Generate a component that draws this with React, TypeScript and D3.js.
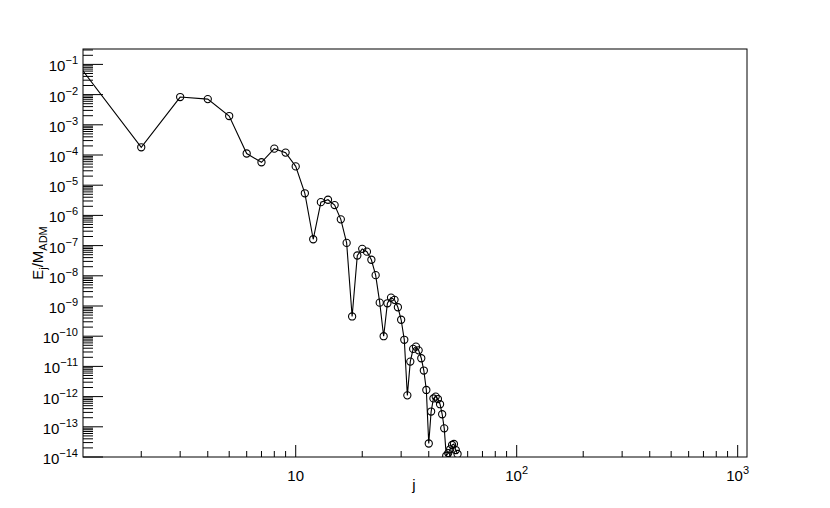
import React from 'react';
import * as d3 from 'd3';

// mode index j and energy fraction E_j / M_ADM
const modes = [
  1, 2, 3, 4, 5, 6, 7, 8, 9, 10, 11, 12, 13, 14, 15, 16, 17, 18,
  19, 20, 21, 22, 23, 24, 25, 26, 27, 28, 29, 30, 31, 32, 33, 34, 35, 36,
  37, 38, 39, 40, 41, 42, 43, 44, 45, 46, 47, 48, 49, 50, 51, 52, 53, 54,
];
const energies = [
  0.14, 1.8e-4, 8.3e-3, 7.1e-3, 1.95e-3, 1.12e-4, 5.75e-5, 1.62e-4, 1.2e-4, 4.2e-5,
  5.4e-6, 1.62e-7, 2.75e-6, 3.3e-6, 2.2e-6, 7.4e-7, 1.23e-7, 4.5e-10,
  4.7e-8, 7.8e-8, 6.3e-8, 3.4e-8, 1.05e-8, 1.29e-9, 1.0e-10, 1.23e-9, 1.9e-9,
  1.6e-9, 9.1e-10, 3.5e-10, 7.6e-11, 1.1e-12, 1.44e-11, 3.8e-11, 4.5e-11, 3.4e-11,
  1.86e-11, 7.3e-12, 1.66e-12, 2.8e-14, 3.2e-13, 8.7e-13, 1.0e-12, 8.3e-13, 5.6e-13,
  2.6e-13, 8.9e-14, 1.1e-14, 1.35e-14, 1.8e-14, 2.5e-14, 2.7e-14, 1.7e-14, 1.26e-14,
];

const yDecades = [-14, -13, -12, -11, -10, -9, -8, -7, -6, -5, -4, -3, -2, -1];
const xDecades = [1, 2, 3];
const xMinorDecades = [0, 1, 2];
const minorSteps = [2, 3, 4, 5, 6, 7, 8, 9];

const xDomain = [1.09, 1102];
const yDomain = [1e-14, Math.pow(10, -0.49)];

const font = "'Liberation Sans', Arial, Helvetica, sans-serif";

export default function App() {
  const margin = { top: 49, right: 83, bottom: 51, left: 83 };
  const width = 830, height = 508;
  const x0 = margin.left, x1 = width - margin.right;
  const y0 = height - margin.bottom, y1 = margin.top;

  const x = d3.scaleLog().domain(xDomain).range([x0, x1]);
  const y = d3.scaleLog().domain(yDomain).range([y0, y1]);

  const data = modes.map((j, i) => ({ j, e: energies[i] }));
  const line = d3.line<{ j: number; e: number }>()
    .x(d => x(d.j))
    .y(d => y(d.e));

  // minor ticks on y: k * 10^n
  const yMinor: number[] = [];
  for (const n of [...yDecades, 0]) {
    for (const k of minorSteps) {
      const v = k * Math.pow(10, n - 1);
      if (v > yDomain[0] && v < yDomain[1]) yMinor.push(v);
    }
  }
  const xMinor: number[] = [];
  for (const n of xMinorDecades) {
    for (const k of minorSteps) {
      const v = k * Math.pow(10, n);
      if (v > xDomain[0] && v < xDomain[1]) xMinor.push(v);
    }
  }

  return (
    <svg width={width} height={height}
      style={{ position: 'absolute', left: 0, top: 0, background: '#fff' }}>
      <defs>
        <clipPath id="frame">
          <rect x={x0} y={y1} width={x1 - x0} height={y0 - y1} />
        </clipPath>
      </defs>
      <rect x={0} y={0} width={width} height={height} fill="#fff" />

      {/* y ticks */}
      <g stroke="#000" strokeWidth={1}>
        {yDecades.map(n => (
          <line key={'ym' + n} x1={x0} x2={x0 + 20} y1={y(Math.pow(10, n))} y2={y(Math.pow(10, n))} />
        ))}
        {yMinor.map((v, i) => (
          <line key={'yn' + i} x1={x0} x2={x0 + 10} y1={y(v)} y2={y(v)} />
        ))}
        {xDecades.map(n => (
          <line key={'xm' + n} x1={x(Math.pow(10, n))} x2={x(Math.pow(10, n))} y1={y0} y2={y0 - 12} />
        ))}
        {xMinor.map((v, i) => (
          <line key={'xn' + i} x1={x(v)} x2={x(v)} y1={y0} y2={y0 - 6} />
        ))}
      </g>

      {/* y tick labels */}
      <g fontFamily={font} fill="#000">
        {yDecades.map(n => (
          <text key={'yl' + n} x={78} y={y(Math.pow(10, n)) + 7} textAnchor="end" fontSize={15}>
            10<tspan fontSize={11} dy={-7}>{'\u2212' + Math.abs(n)}</tspan>
          </text>
        ))}
        {xDecades.map(n => (
          <text key={'xl' + n} x={x(Math.pow(10, n))} y={481} textAnchor="middle" fontSize={15}>
            10{n > 1 ? <tspan fontSize={11} dy={-7}>{n}</tspan> : null}
          </text>
        ))}
        <text x={414} y={490} textAnchor="middle" fontSize={15}>j</text>
        <text transform={`translate(43,${(y0 + y1) / 2}) rotate(-90)`} textAnchor="middle" fontSize={15}>
          E<tspan fontSize={11} dy={4}>j</tspan>
          <tspan dy={-4}>/M</tspan>
          <tspan fontSize={11} dy={4}>ADM</tspan>
        </text>
      </g>

      {/* data */}
      <g clipPath="url(#frame)">
        <path d={line(data) || ''} fill="none" stroke="#000" strokeWidth={1.1} />
        {data.map(d => (
          <circle key={d.j} cx={x(d.j)} cy={y(d.e)} r={3.6} fill="none" stroke="#000" strokeWidth={1.1} />
        ))}
      </g>

      <rect x={x0} y={y1} width={x1 - x0} height={y0 - y1} fill="none" stroke="#000" strokeWidth={1} />
    </svg>
  );
}
